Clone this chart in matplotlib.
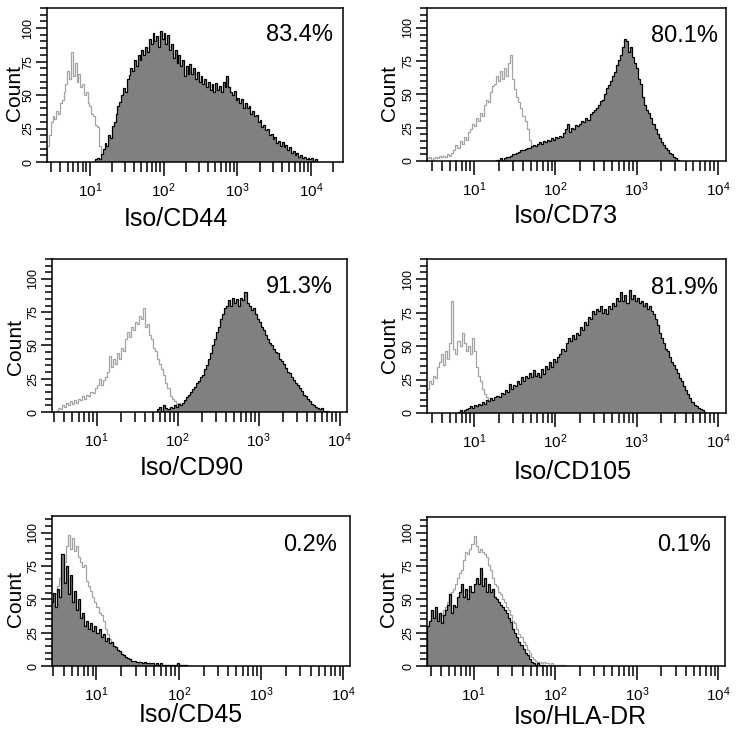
import numpy as np
import matplotlib
matplotlib.use("Agg")
import matplotlib.pyplot as plt
from matplotlib.ticker import MultipleLocator, NullFormatter, FixedLocator

plt.rcParams['font.family'] = ['Liberation Sans', 'DejaVu Sans']

BIN_W = 0.025  # channel width in log10 units

markers = ['Iso/CD44', 'Iso/CD73', 'Iso/CD90', 'Iso/CD105', 'Iso/CD45', 'Iso/HLA-DR']
percents = ['83.4%', '80.1%', '91.3%', '81.9%', '0.2%', '0.1%']

# first channel (log10) of each histogram, counts
cd44_iso_start = 0.42
cd44_iso = [12, 20, 30, 34, 32, 38, 36, 44, 46, 52, 58, 68, 62, 82, 64, 74, 60, 66, 56, 58,
            50, 52, 44, 42, 36, 34, 28, 26, 12, 4, 1, 0]
cd44_start = 1.05
cd44 = [1, 2, 3, 2, 6, 10, 14, 12, 20, 18, 27, 30, 36, 42, 45, 50, 55, 52, 62, 65,
        70, 68, 76, 72, 80, 76, 84, 80, 86, 82, 92, 88, 96, 90, 94, 86, 98, 92, 96, 88,
        95, 84, 88, 78, 84, 74, 80, 72, 76, 64, 72, 66, 73, 66, 70, 62, 67, 60, 64, 58,
        62, 56, 60, 54, 58, 52, 59, 54, 57, 52, 60, 56, 64, 56, 52, 50, 53, 46, 48, 44,
        47, 40, 44, 40, 42, 36, 38, 34, 35, 30, 31, 26, 28, 24, 25, 20, 21, 17, 19, 14,
        16, 12, 15, 11, 13, 9, 11, 7, 8, 5, 7, 4, 5, 3, 4, 2, 3, 2, 3, 1, 2, 0]

cd73_iso_start = 0.42
cd73_iso = [2, 3, 1, 2, 3, 2, 4, 3, 4, 3, 5, 4, 6, 8, 12, 10, 15, 13, 18, 16,
            22, 24, 28, 26, 32, 30, 36, 34, 42, 46, 44, 52, 56, 58, 64, 60, 68, 62, 70, 64,
            74, 80, 62, 54, 48, 44, 40, 34, 30, 24, 16, 10, 5, 2, 0]
cd73_start = 1.27
cd73 = [1, 1, 2, 1, 2, 3, 3, 4, 5, 5, 6, 7, 8, 8, 9, 10, 10, 11, 12, 11,
        13, 14, 13, 15, 14, 16, 15, 17, 16, 18, 17, 19, 18, 21, 24, 28, 22, 25, 24, 27,
        26, 28, 30, 29, 32, 31, 35, 37, 38, 40, 42, 45, 46, 50, 55, 57, 60, 64, 67, 72,
        76, 80, 86, 92, 90, 82, 86, 78, 74, 70, 62, 58, 48, 42, 38, 36, 32, 28, 24, 20,
        17, 14, 12, 10, 8, 6, 5, 3, 2, 1, 0]

cd90_iso_start = 0.50
cd90_iso = [1, 3, 2, 5, 4, 7, 5, 8, 6, 9, 7, 10, 9, 12, 10, 13, 12, 15, 14, 18,
            20, 25, 20, 24, 26, 30, 42, 34, 40, 36, 44, 40, 48, 46, 55, 60, 56, 64, 62, 68,
            66, 72, 70, 78, 64, 66, 58, 55, 48, 46, 40, 36, 32, 28, 22, 18, 12, 10, 8, 6,
            7, 4, 2, 0]
cd90_start = 1.75
cd90 = [2, 4, 1, 5, 3, 2, 4, 3, 5, 4, 6, 5, 7, 9, 11, 13, 15, 17, 19, 22,
        23, 26, 28, 32, 35, 40, 44, 50, 55, 60, 64, 70, 74, 78, 80, 84, 80, 86, 82, 85,
        80, 86, 84, 90, 82, 80, 77, 78, 74, 70, 68, 64, 62, 58, 55, 52, 50, 47, 45, 44,
        40, 38, 36, 33, 30, 29, 26, 24, 22, 20, 18, 16, 13, 12, 10, 8, 6, 5, 4, 3,
        2, 3, 1, 1, 0]

cd105_iso_start = 0.42
cd105_iso = [18, 24, 22, 28, 26, 34, 38, 44, 36, 46, 40, 52, 84, 48, 44, 54, 50, 60, 52, 46,
             50, 44, 56, 46, 34, 28, 24, 18, 14, 12, 9, 6, 3, 0]
cd105_start = 0.80
cd105 = [1, 2, 1, 2, 3, 4, 5, 4, 6, 5, 7, 6, 8, 7, 10, 9, 11, 10, 12, 13,
         12, 15, 14, 17, 16, 22, 18, 21, 20, 24, 22, 27, 24, 28, 26, 30, 27, 32, 28, 30,
         27, 33, 29, 35, 33, 38, 34, 40, 38, 42, 44, 48, 46, 52, 56, 54, 58, 55, 60, 58,
         64, 62, 68, 66, 72, 70, 76, 74, 78, 76, 80, 75, 78, 74, 80, 78, 82, 80, 86, 84,
         90, 84, 88, 82, 92, 85, 88, 84, 86, 82, 84, 80, 82, 78, 80, 76, 74, 70, 66, 60,
         56, 52, 48, 46, 42, 38, 36, 33, 30, 26, 24, 20, 17, 14, 11, 8, 6, 5, 4, 3,
         2, 1, 0]

cd45_iso_start = 0.45
cd45_iso = [42, 50, 54, 60, 66, 72, 78, 90, 98, 88, 96, 86, 90, 82, 78, 74, 76, 64, 60, 56,
            52, 48, 44, 40, 38, 34, 28, 24, 20, 18, 14, 12, 10, 9, 8, 7, 6, 5, 4, 3,
            3, 2, 2, 2, 1, 1, 1, 1, 1, 1, 0]
cd45_start = 0.45
cd45 = [48, 55, 44, 58, 52, 84, 62, 75, 54, 68, 48, 56, 42, 50, 36, 40, 30, 34, 28, 32,
        26, 30, 25, 28, 22, 24, 19, 21, 17, 18, 15, 14, 12, 11, 9, 8, 7, 6, 5, 4,
        4, 3, 3, 3, 2, 3, 2, 2, 2, 2, 1, 2, 1, 2, 1, 1, 1, 1, 1, 1,
        1, 2, 1, 1, 0.5, 0.5, 0]

hladr_iso_start = 0.425
hladr_iso = [28, 32, 36, 34, 38, 36, 40, 38, 42, 44, 48, 52, 56, 58, 62, 66, 70, 72, 80, 86,
             84, 88, 92, 98, 90, 86, 88, 86, 84, 82, 76, 72, 66, 62, 60, 56, 54, 50, 48, 44,
             42, 38, 34, 32, 28, 24, 22, 18, 16, 12, 10, 7, 5, 4, 3, 3, 2, 3, 2, 2,
             1, 2, 1, 1, 1, 1, 1, 0.5, 0]
hladr_start = 0.425
hladr = [30, 34, 42, 36, 44, 34, 40, 32, 38, 42, 46, 54, 40, 46, 44, 52, 56, 62, 52, 58,
         50, 60, 56, 62, 66, 62, 74, 60, 66, 56, 62, 56, 58, 52, 50, 48, 46, 44, 42, 40,
         36, 33, 28, 25, 22, 18, 16, 13, 10, 8, 5, 3, 2, 1, 2, 1, 1, 0.5, 0]

isos = [(cd44_iso_start, cd44_iso), (cd73_iso_start, cd73_iso), (cd90_iso_start, cd90_iso),
        (cd105_iso_start, cd105_iso), (cd45_iso_start, cd45_iso), (hladr_iso_start, hladr_iso)]
samples = [(cd44_start, cd44), (cd73_start, cd73), (cd90_start, cd90),
           (cd105_start, cd105), (cd45_start, cd45), (hladr_start, hladr)]

# layout in pixels of the 736x734 canvas: left, top, right, bottom
W, H = 736, 734
boxes = [(47, 8, 343, 162), (427, 8, 726, 161),
         (52, 259, 347, 412), (427, 259, 726, 413),
         (52, 516, 350, 666), (427, 517, 725, 666)]
xlims = [(0.42, 4.43), (0.42, 4.10), (0.45, 4.09), (0.42, 4.10), (0.46, 4.08), (0.43, 4.08)]
ytops = [115, 115, 115, 115, 112.5, 112]
pct_pos = [(0.966, 0.825), (0.973, 0.82), (0.953, 0.817), (0.973, 0.81), (0.956, 0.807), (0.953, 0.81)]
xlab_pos = [(0.436, -0.29), (0.465, -0.28), (0.475, -0.288), (0.488, -0.305), (0.466, -0.247), (0.513, -0.26)]
count_pos = [(-0.111, 0.448), (-0.127, 0.444), (-0.125, 0.425), (-0.127, 0.44), (-0.124, 0.447), (-0.128, 0.45)]


def edges(start, vals):
    return 10 ** (start + BIN_W * np.arange(len(vals) + 1))


fig = plt.figure(figsize=(W / 100, H / 100), dpi=100)

for i in range(6):
    l, t, r, b = boxes[i]
    ax = fig.add_axes([l / W, (H - b) / H, (r - l) / W, (b - t) / H])
    ax.set_xscale('log')

    s, v = isos[i]
    ax.stairs(v, edges(s, v), baseline=0, color='#a3a3a3', lw=0.9)
    s, v = samples[i]
    ax.stairs(v, edges(s, v), baseline=0, fill=True, color='#808080', lw=0)
    ax.stairs(v, edges(s, v), baseline=0, color='black', lw=0.9)

    ax.set_xlim(10 ** xlims[i][0], 10 ** xlims[i][1])
    ax.set_ylim(0, ytops[i])

    ax.set_xticks([10, 100, 1000, 10000],
                  labels=[r'$\mathregular{10^{%d}}$' % e for e in range(1, 5)],
                  fontsize=11, fontfamily=['Liberation Sans Narrow', 'Liberation Sans'])
    minors = [m * 10 ** e for e in range(0, 5) for m in range(2, 10)]
    ax.xaxis.set_minor_locator(FixedLocator(minors))
    ax.xaxis.set_minor_formatter(NullFormatter())

    ax.set_yticks([0, 25, 50, 75, 100])
    ax.yaxis.set_minor_locator(MultipleLocator(5))
    ax.tick_params(axis='y', labelrotation=90, labelsize=9, pad=1)
    for lbl in ax.get_yticklabels():
        lbl.set_verticalalignment('center')

    ax.tick_params(which='major', axis='x', length=10, width=1.1, pad=4)
    ax.tick_params(which='minor', axis='x', length=7, width=1.1)
    ax.tick_params(which='major', axis='y', length=8, width=1.1)
    ax.tick_params(which='minor', axis='y', length=5, width=1.1)
    for sp in ax.spines.values():
        sp.set_linewidth(1.1)

    ax.text(pct_pos[i][0], pct_pos[i][1], percents[i], transform=ax.transAxes,
            ha='right', va='center', fontsize=17)
    ax.text(xlab_pos[i][0], xlab_pos[i][1], markers[i], transform=ax.transAxes,
            ha='center', va='top', fontsize=18)
    ax.text(count_pos[i][0], count_pos[i][1], 'Count', transform=ax.transAxes,
            rotation=90, ha='center', va='center', fontsize=15)

fig.savefig('out.png', dpi=100)
